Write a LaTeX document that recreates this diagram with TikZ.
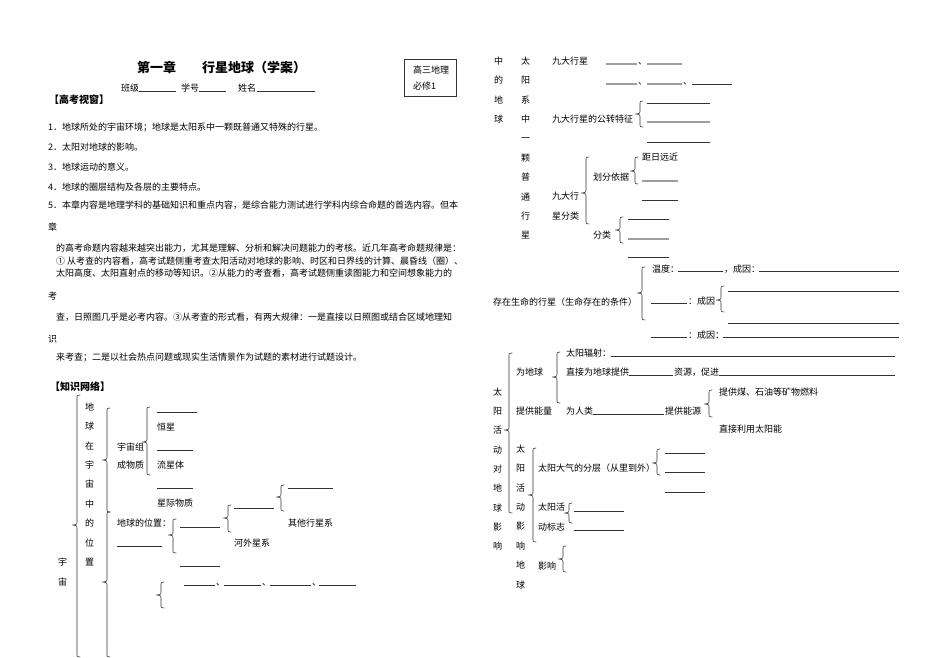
\documentclass[tikz,border=0pt]{standalone}
\usepackage{fontspec}
\setmainfont{Noto Sans CJK SC}
\newcommand\bodyfs{\fontsize{9pt}{9pt}\selectfont}
% brace: x of stem, y top, y bottom, y tip
\newcommand\mybrace[4]{\draw[brc] (#1+3,#2) .. controls (#1,#2) .. (#1,#2+4) -- (#1,#4-4) .. controls (#1,#4-0.5) .. (#1-4.5,#4) .. controls (#1,#4+0.5) .. (#1,#4+4) -- (#1,#3-4) .. controls (#1,#3) .. (#1+3,#3);}
\begin{document}
\begin{tikzpicture}[x=1pt,y=-1pt,
  txt/.style={anchor=base west,inner sep=0pt,yshift=-3.3pt,font=\bodyfs},
  head/.style={anchor=base west,inner sep=0pt,yshift=-3.8pt,font=\fontsize{10pt}{10pt}\selectfont\bfseries},
  ttl/.style={anchor=base west,inner sep=0pt,yshift=-4.8pt,font=\fontsize{13pt}{13pt}\selectfont\bfseries},
  uline/.style={line width=0.6pt,black!80},
  gline/.style={line width=1.1pt,black!38},
  brc/.style={line width=0.6pt,black!80,line join=round,line cap=round}]
\useasboundingbox (0,0) rectangle (950,658);
\fill[white] (0,0) rectangle (950,658);

% ---------- header ----------
\node[ttl] (title) at (137,68) {第一章　　行星地球（学案）};
\node[txt] (banji) at (121,88) {班级};
\draw[uline] (139,91) -- (176,91);
\node[txt] (xuehao) at (181,88) {学号};
\draw[uline] (199,91) -- (226,91);
\node[txt] (xingming) at (238,88) {姓名};
\draw[uline] (257,91) -- (315,91);
\draw[line width=0.6pt,black!80] (404,59) rectangle (456,96);
\node[txt] (box1) at (413,70) {高三地理};
\node[txt] (box2) at (413,86) {必修1};

% ---------- 高考视窗 ----------
\node[head] (h1) at (49,100) {【高考视窗】};
\node[txt] (l1) at (48,127) {1．地球所处的宇宙环境；地球是太阳系中一颗既普通又特殊的行星。};
\node[txt] (l2) at (48,147) {2．太阳对地球的影响。};
\node[txt] (l3) at (48,167) {3．地球运动的意义。};
\node[txt] (l4) at (48,187) {4．地球的圈层结构及各层的主要特点。};
\node[txt] (l5) at (48,205) {5．本章内容是地理学科的基础知识和重点内容，是综合能力测试进行学科内综合命题的首选内容。但本};
\node[txt] (l6) at (48,227) {章};
\node[txt] (l7) at (56,248) {的高考命题内容越来越突出能力，尤其是理解、分析和解决问题能力的考核。近几年高考命题规律是：};
\node[txt] (l8) at (56,261) {① 从考查的内容看，高考试题侧重考查太阳活动对地球的影响、时区和日界线的计算、晨昏线（圈）、};
\node[txt] (l9) at (56,273) {太阳高度、太阳直射点的移动等知识。②从能力的考查看，高考试题侧重读图能力和空间想象能力的};
\node[txt] (l10) at (48,296) {考};
\node[txt] (l11) at (56,317) {查，日照图几乎是必考内容。③从考查的形式看，有两大规律：一是直接以日照图或结合区域地理知};
\node[txt] (l12) at (48,339) {识};
\node[txt] (l13) at (56,357) {来考查；二是以社会热点问题或现实生活情景作为试题的素材进行试题设计。};

% ---------- 知识网络 (left) ----------
\node[head] (h2) at (50,387) {【知识网络】};
\mybrace{77}{395}{657}{525}
\node[txt] (yu) at (58,562) {宇};
\node[txt] (zhou) at (58,582) {宙};
\foreach \c [count=\i from 0] in {地,球,在,宇,宙,中,的,位,置}
  \node[txt] (va\i) at (85,407+19.4*\i) {\c};
\mybrace{107}{408}{512}{460}
\mybrace{107}{512}{657}{582}
\node[txt] (zc1) at (117,447) {宇宙组};
\node[txt] (zc2) at (117,465) {成物质};
\mybrace{147}{407}{475}{442}
\draw[uline] (157,412) -- (197,412);
\node[txt] (hengxing) at (157,427) {恒星};
\draw[uline] (157,450) -- (193,450);
\node[txt] (liuxing) at (157,465) {流星体};
\draw[uline] (157,488) -- (193,488);
\node[txt] (xingji) at (157,503) {星际物质};
\node[txt] (weizhi) at (117,523) {地球的位置：};
\draw[uline] (117,546) -- (162,546);
\mybrace{173}{519}{553}{535}
\draw[uline] (180,527) -- (220,527);
\draw[uline] (180,566) -- (220,566);
\mybrace{228}{505}{532}{518}
\draw[uline] (234,508) -- (274,508);
\node[txt] (hewai) at (234,543) {河外星系};
\mybrace{281}{485}{511}{497}
\draw[uline] (288,488) -- (333,488);
\node[txt] (qita) at (288,523) {其他行星系};
\mybrace{161}{582}{608}{595}
\draw[uline] (184,585) -- (215,585);
\node[txt] (d1) at (216,582) {、};
\draw[uline] (224,585) -- (261,585);
\node[txt] (d2) at (262,582) {、};
\draw[uline] (270,585) -- (311,585);
\node[txt] (d3) at (312,582) {、};
\draw[uline] (319,585) -- (356,585);

% ---------- right top ----------
\foreach \c [count=\i from 0] in {中,的,地,球}
  \node[txt] (vb\i) at (494,61+19.4*\i) {\c};
\foreach \c [count=\i from 0] in {太,阳,系,中,一,颗,普,通,行,星}
  \node[txt] (vc\i) at (521,61+19.4*\i) {\c};
\node[txt] (jiuda) at (552,61) {九大行星};
\draw[gline] (606,64) -- (637,64);
\node[txt] (d4) at (638,61) {、};
\draw[gline] (647,64) -- (682,64);
\draw[gline] (606,84) -- (637,84);
\node[txt] (d5) at (638,81) {、};
\draw[gline] (647,84) -- (682,84);
\node[txt] (d6) at (683,81) {、};
\draw[uline] (692,84) -- (732,84);
\node[txt] (gongzhuan) at (552,119) {九大行星的公转特征};
\mybrace{640}{101}{127}{114}
\draw[uline] (647,103) -- (710,103);
\draw[gline] (647,122) -- (710,122);
\draw[uline] (647,142) -- (710,142);
\mybrace{586}{157}{224}{193}
\node[txt] (fl1) at (552,196) {九大行};
\node[txt] (fl2) at (552,216) {星分类};
\node[txt] (yiju) at (593,177) {划分依据};
\mybrace{635}{157}{184}{171}
\node[txt] (juri) at (642,157) {距日远近};
\draw[gline] (642,181) -- (678,181);
\draw[uline] (642,200) -- (678,200);
\node[txt] (fenlei) at (593,235) {分类};
\mybrace{620}{217}{243}{230}
\draw[uline] (628,219) -- (669,219);
\draw[gline] (628,239) -- (669,239);
\draw[uline] (628,257) -- (669,257);

% ---------- 存在生命的行星 ----------
\node[txt] (shengming) at (493,302) {存在生命的行星（生命存在的条件）};
\mybrace{642}{267}{320}{293}
\node[txt] (wendu) at (652,269) {温度：};
\draw[uline] (678,271) -- (723,271);
\node[txt] (cy1) at (724,269) {，成因：};
\draw[uline] (759,271) -- (899,271);
\draw[uline] (651,303) -- (687,303);
\node[txt] (cy2) at (688,301) {：成因};
\mybrace{721}{286}{312}{300}
\draw[uline] (728,291) -- (899,291);
\draw[uline] (728,323) -- (899,323);
\draw[uline] (651,337) -- (687,337);
\node[txt] (cy3) at (688,335) {：成因：};
\draw[uline] (723,337) -- (899,337);

% ---------- 太阳 ----------
\foreach \c [count=\i from 0] in {太,阳,活,动,对,地,球,影,响}
  \node[txt] (vd\i) at (493,392+19.3*\i) {\c};
\mybrace{509}{353}{513}{430}
\node[txt] (wdq) at (516,372) {为地球};
\node[txt] (tgnl) at (516,411) {提供能量};
\mybrace{557}{352}{403}{377}
\node[txt] (fushe) at (566,353) {太阳辐射：};
\draw[uline] (611,356) -- (895,356);
\node[txt] (zhijie) at (566,372) {直接为地球提供};
\draw[uline] (629,375) -- (673,375);
\node[txt] (ziyuan) at (674,372) {资源，促进};
\draw[uline] (719,375) -- (895,375);
\node[txt] (renlei) at (566,411) {为人类};
\draw[uline] (593,414) -- (664,414);
\node[txt] (nengyuan) at (665,411) {提供能源};
\mybrace{709}{390}{417}{404}
\node[txt] (mei) at (719,392) {提供煤、石油等矿物燃料};
\node[txt] (taiyangneng) at (719,429) {直接利用太阳能};
\foreach \c [count=\i from 0] in {太,阳,活,动,影,响,地,球}
  \node[txt] (ve\i) at (516,449+19.4*\i) {\c};
\mybrace{533}{448}{542}{495}
\node[txt] (fenceng) at (538,468) {太阳大气的分层（从里到外）};
\mybrace{657}{449}{475}{463}
\draw[uline] (665,453) -- (705,453);
\draw[uline] (665,472) -- (705,472);
\draw[uline] (665,492) -- (705,492);
\node[txt] (bz1) at (538,507) {太阳活};
\node[txt] (bz2) at (538,527) {动标志};
\mybrace{569}{503}{523}{513}
\draw[uline] (574,511) -- (624,511);
\draw[uline] (574,530) -- (624,530);
\node[txt] (yingxiang) at (538,566) {影响};
\mybrace{563}{546}{572}{559}
\end{tikzpicture}
\end{document}
